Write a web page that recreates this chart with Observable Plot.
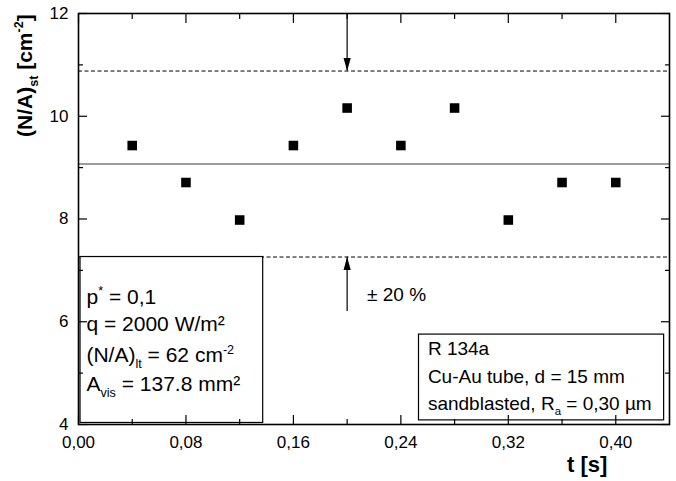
<!DOCTYPE html>
<html>
<head>
<meta charset="utf-8">
<script src="https://cdn.jsdelivr.net/npm/d3@7"></script>
<script src="https://cdn.jsdelivr.net/npm/@observablehq/plot@0.6"></script>
<style>
  body { margin: 0; background: #fff; }
  svg text { white-space: pre; }
</style>
</head>
<body>
<div id="chart"></div>
<script>
// Stationary nucleation site density over time
const times = [0.04, 0.08, 0.12, 0.16, 0.20, 0.24, 0.28, 0.32, 0.36, 0.40];
const density = [9.43, 8.71, 7.98, 9.43, 10.16, 9.43, 10.16, 7.98, 8.71, 8.71];

// mean value and the ±20 % band around it
const meanDensity = 9.07;
const bandValues = [7.26, 10.88];

// arrows marking the band: position in t, start and tip in (N/A)
const arrowT = [0.20, 0.20];
const arrowFrom = [12, 6.2];
const arrowTo = [10.88, 7.26];

// axis ticks and labels
const xMajor = [0, 0.08, 0.16, 0.24, 0.32, 0.40];
const xMinor = [0.04, 0.12, 0.20, 0.28, 0.36];
const xTickLabels = ["0,00", "0,08", "0,16", "0,24", "0,32", "0,40"];
const yMajor = [4, 6, 8, 10, 12];
const yMinor = [5, 7, 9, 11];
const yTickLabels = ["4", "6", "8", "10", "12"];

const points = times.map((t, i) => ({t, v: density[i]}));
const arrows = arrowT.map((t, i) => ({t, from: arrowFrom[i], to: arrowTo[i]}));

// filled arrowheads with the tip at the origin
const headDown = {draw(c) { c.moveTo(0, 0); c.lineTo(-3.6, -13); c.lineTo(3.6, -13); c.closePath(); }};
const headUp = {draw(c) { c.moveTo(0, 0); c.lineTo(-3.6, 13); c.lineTo(3.6, 13); c.closePath(); }};

const font = "'Liberation Sans', Arial, Helvetica, sans-serif";
const blank = () => "";

const inwardTicks = (anchor, major, minor, axis) => [
  axis({anchor, ticks: major, tickSize: -9, tickFormat: blank, label: null, strokeWidth: 1.2}),
  axis({anchor, ticks: minor, tickSize: -5, tickFormat: blank, label: null, strokeWidth: 1.2})
];

const plot = Plot.plot({
  width: 676,
  height: 481,
  marginLeft: 78,
  marginRight: 7,
  marginTop: 13,
  marginBottom: 57,
  style: {fontFamily: font, fontSize: "16px", color: "black", background: "white"},
  x: {domain: [0, 0.44]},
  y: {domain: [4, 12]},
  marks: [
    Plot.ruleY(bandValues, {strokeDasharray: "4,2.5", strokeWidth: 1}),
    Plot.ruleY([meanDensity], {stroke: "#7d7d7d", strokeWidth: 1.5}),
    Plot.ruleX(arrows, {x: "t", y1: "from", y2: "to", strokeWidth: 1.2}),
    Plot.dot(arrows.filter(d => d.to < d.from), {x: "t", y: "to", symbol: headDown, fill: "black", stroke: "none"}),
    Plot.dot(arrows.filter(d => d.to > d.from), {x: "t", y: "to", symbol: headUp, fill: "black", stroke: "none"}),
    Plot.dot(points, {x: "t", y: "v", symbol: "square", r: 5.4, fill: "black", stroke: "none"}),
    // annotation boxes
    Plot.rect([0], {x1: 0.0015, x2: 0.1375, y1: 4.03, y2: 7.26, fill: "white", stroke: "black", strokeWidth: 1.2}),
    Plot.rect([0], {x1: 0.2535, x2: 0.4360, y1: 4.08, y2: 5.75, fill: "white", stroke: "black", strokeWidth: 1.2}),
    Plot.frame({stroke: "black", strokeWidth: 1.6}),
    ...inwardTicks("bottom", xMajor, xMinor, Plot.axisX),
    ...inwardTicks("top", xMajor, xMinor, Plot.axisX),
    ...inwardTicks("left", yMajor, yMinor, Plot.axisY),
    ...inwardTicks("right", yMajor, yMinor, Plot.axisY),
    Plot.axisX({anchor: "bottom", ticks: xMajor, tickSize: 0, tickPadding: 11,
      tickFormat: d => xTickLabels[xMajor.indexOf(d)], label: null, fontSize: 17}),
    Plot.axisY({anchor: "left", ticks: yMajor, tickSize: 0, tickPadding: 10,
      tickFormat: d => yTickLabels[yMajor.indexOf(d)], label: null, fontSize: 17})
  ]
});

document.getElementById("chart").append(plot);

// rich text with sub- and superscripts
const svg = d3.select(plot);
const sx = plot.scale("x"), sy = plot.scale("y");

function richText(x, y, runs, {size = 19, weight = "normal", rotate = 0} = {}) {
  const t = svg.append("text")
    .attr("transform", `translate(${x},${y}) rotate(${rotate})`)
    .attr("text-anchor", "start")
    .attr("font-family", font)
    .attr("font-size", size)
    .attr("font-weight", weight)
    .attr("fill", "black");
  let shift = 0;
  for (const r of runs) {
    const target = r.sub ? size * 0.27 : r.sup ? -size * 0.42 : 0;
    const ts = t.append("tspan").attr("dy", target - shift).text(r.t);
    if (r.sub || r.sup) ts.attr("font-size", size * 0.6);
    shift = target;
  }
}

const at = (t, v) => [sx.apply(t), sy.apply(v)];

// conditions box
const box1 = {size: 21};
richText(...at(0.0063, 6.34), [{t: "p"}, {t: "*", sup: true}, {t: " = 0,1"}], box1);
richText(...at(0.0063, 5.81), [{t: "q = 2000 W/m²"}], box1);
richText(...at(0.0063, 5.20), [{t: "(N/A)"}, {t: "lt", sub: true}, {t: " = 62 cm"}, {t: "-2", sup: true}], box1);
richText(...at(0.0063, 4.64), [{t: "A"}, {t: "vis", sub: true}, {t: " = 137.8 mm²"}], box1);

// fluid and tube box
richText(...at(0.2605, 5.34), [{t: "R 134a"}]);
richText(...at(0.2605, 4.80), [{t: "Cu-Au tube, d = 15 mm"}]);
richText(...at(0.2605, 4.27), [{t: "sandblasted, R"}, {t: "a", sub: true}, {t: " = 0,30 µm"}]);

// band label
richText(...at(0.2152, 6.39), [{t: "± 20 %"}], {size: 19});

// axis titles
richText(32, 137, [{t: "(N/A)"}, {t: "st", sub: true}, {t: " [cm"}, {t: "-2", sup: true}, {t: "]"}],
  {size: 21, weight: "bold", rotate: -90});
richText(567, 472, [{t: "t [s]"}], {size: 22, weight: "bold"});
</script>
</body>
</html>
